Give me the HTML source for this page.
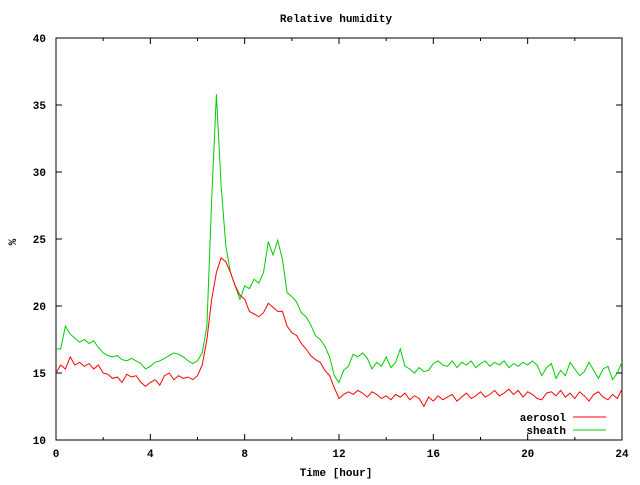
<!DOCTYPE html>
<html><head><meta charset="utf-8"><style>
body{margin:0;background:#fff}
svg text{font-family:"Liberation Mono",monospace;font-size:11px;font-weight:bold;fill:#000}
</style></head><body>
<svg id="chart" width="640" height="480" xmlns="http://www.w3.org/2000/svg">
<rect width="640" height="480" fill="#fff"/>
<g id="axes"></g>
<g id="series"></g>
<text x="336" y="22" text-anchor="middle">Relative humidity</text>
<text x="336" y="476" text-anchor="middle">Time [hour]</text>
<text x="16" y="242" text-anchor="middle" transform="rotate(-90 16 242)">%</text>
<g>
<text x="566" y="421" text-anchor="end">aerosol</text>
<line x1="573" y1="417" x2="606" y2="417" stroke="#f00"/>
<text x="566" y="434" text-anchor="end">sheath</text>
<line x1="573" y1="430" x2="606" y2="430" stroke="#0c0"/>
</g>
</svg>
<script>
const xTicks=[0,4,8,12,16,20,24];
const yTicks=[10,15,20,25,30,35,40];
const step=0.2;
const sheath=[16.8,16.8,18.5,17.9,17.6,17.3,17.5,17.2,17.4,16.9,16.5,16.3,16.2,16.3,16.0,15.9,16.1,15.9,15.7,15.3,15.5,15.8,15.9,16.1,16.3,16.5,16.4,16.2,15.9,15.7,15.9,16.5,18.5,28,35.8,29,24.5,22.5,21.5,20.5,21.5,21.3,22,21.7,22.5,24.8,23.8,24.9,23.5,21,20.7,20.3,19.5,19.2,18.6,17.8,17.5,17.0,16.2,14.8,14.3,15.2,15.5,16.4,16.2,16.5,16.1,15.3,15.8,15.5,16.2,15.4,15.8,16.8,15.5,15.3,15.0,15.4,15.1,15.2,15.7,15.9,15.6,15.5,15.9,15.4,15.8,15.6,15.9,15.4,15.7,15.9,15.5,15.8,15.6,15.9,15.4,15.7,15.5,15.8,15.6,15.9,15.6,14.8,15.4,15.7,14.6,15.2,14.8,15.8,15.3,14.8,15.1,15.8,15.2,14.6,15.3,15.5,14.5,15.0,15.8];
const aerosol=[15.0,15.6,15.3,16.2,15.6,15.8,15.5,15.7,15.3,15.6,15.0,14.9,14.6,14.7,14.3,14.9,14.7,14.8,14.3,14.0,14.3,14.5,14.1,14.8,15.0,14.5,14.8,14.6,14.7,14.5,14.8,15.6,17.5,20.5,22.5,23.6,23.3,22.5,21.5,20.8,20.5,19.6,19.4,19.2,19.5,20.2,19.9,19.6,19.6,18.5,18.0,17.8,17.2,16.8,16.3,16.0,15.8,15.2,14.8,13.9,13.1,13.4,13.6,13.4,13.7,13.5,13.2,13.6,13.4,13.1,13.3,13.0,13.4,13.2,13.5,13.0,13.3,13.1,12.5,13.2,12.9,13.3,13.0,13.2,13.4,12.9,13.2,13.5,13.1,13.3,13.6,13.2,13.4,13.7,13.3,13.5,13.8,13.4,13.7,13.2,13.6,13.4,13.1,13.0,13.5,13.6,13.3,13.7,13.2,13.5,13.1,13.6,13.3,12.9,13.4,13.6,13.2,13.0,13.4,13.1,13.8];
const X0=56,X1=622,Y0=440,Y1=38;
const xs=v=>X0+(v-0)/(24-0)*(X1-X0);
const ys=v=>Y0-(v-10)/(40-10)*(Y0-Y1);
const NS="http://www.w3.org/2000/svg";
const ax=document.getElementById('axes');
function mk(tag,attrs,parent){const e=document.createElementNS(NS,tag);for(const k in attrs)e.setAttribute(k,attrs[k]);parent.appendChild(e);return e;}
const frame=mk('rect',{x:X0,y:Y1,width:X1-X0,height:Y0-Y1,fill:'none',stroke:'#000'},ax);


xTicks.forEach(t=>{
  const x=xs(t);
  const l=mk('path',{d:`M${x} ${Y0}v-6M${x} ${Y1}v6`,stroke:'#000'},ax);
  
  
  const tx=mk('text',{x:x,y:Y0+17,'text-anchor':'middle'},ax);tx.textContent=t;
  
  
});
for(let t=2;t<24;t+=4){const x=xs(t);const l=mk('path',{d:`M${x} ${Y0}v-3M${x} ${Y1}v3`,stroke:'#000'},ax);
  
  }
yTicks.forEach(t=>{
  const y=ys(t);
  const l=mk('path',{d:`M${X0} ${y}h6M${X1} ${y}h-6`,stroke:'#000'},ax);
  
  
  const tx=mk('text',{x:X0-10,y:y+4,'text-anchor':'end'},ax);tx.textContent=t;
  
  
});
const sg=document.getElementById('series');
function line(arr,color,name){
  const d=arr.map((v,i)=>(i?'L':'M')+xs(i*step).toFixed(1)+' '+ys(v).toFixed(1)).join('');
  const p=mk('path',{d:d,fill:'none',stroke:color,'stroke-width':1},sg);
  
  
}
line(sheath,'#0c0','sheath-line');
line(aerosol,'#f00','aerosol-line');
</script>
</body></html>
